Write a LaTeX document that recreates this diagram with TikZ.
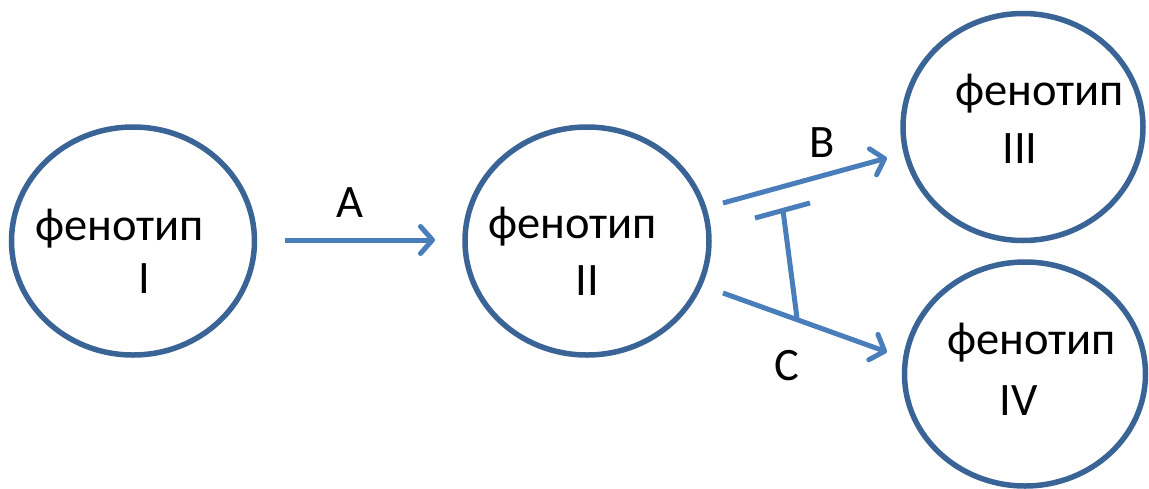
\documentclass[tikz,border=0pt]{standalone}
\usepackage{fontspec}
\setmainfont{Carlito}
\usetikzlibrary{shapes.geometric,arrows.meta}
\definecolor{ringblue}{HTML}{3B6496}
\definecolor{arrowblue}{HTML}{4A7EBB}
\begin{document}
\begin{tikzpicture}[x=1pt,y=-1pt,
  pheno/.style={ellipse, draw=ringblue, line width=5.5pt, inner sep=0pt},
  lbl/.style={font=\fontsize{46.5}{54}\selectfont, inner sep=0pt, text=black},
  link/.style={draw=arrowblue, line width=5pt, -{Straight Barb[length=12pt,width=27pt,line cap=round,line join=round]}},
  inhib/.style={draw=arrowblue, line width=5pt}]
\useasboundingbox (0,0) rectangle (1149,488);
% phenotype circles
\node[pheno, minimum width=243pt, minimum height=228pt] (p1) at (133,241) {};
\node[pheno, minimum width=244pt, minimum height=228pt] (p2) at (587,241) {};
\node[pheno, minimum width=240pt, minimum height=227pt] (p3) at (1023,127) {};
\node[pheno, minimum width=241pt, minimum height=224pt] (p4) at (1025,374) {};
% texts
\node[lbl, anchor=base west] (t1) at (35,240) {фенотип};
\node[lbl, anchor=base] (n1) at (144.5,293) {I};
\node[lbl, anchor=base west] (t2) at (488,238) {фенотип};
\node[lbl, anchor=base] (n2) at (587.5,295) {II};
\node[lbl, anchor=base west] (t3) at (955,105) {фенотип};
\node[lbl, anchor=base] (n3) at (1020,163) {III};
\node[lbl, anchor=base west] (t4) at (947,354) {фенотип};
\node[lbl, anchor=base] (n4) at (1018.5,415) {IV};
% connectors
\coordinate (a0) at (285,240);
\coordinate (a1) at (435,240);
\draw[link] (a0) -- (a1);
\node[lbl, anchor=base] (la) at (350,217) {A};
\coordinate (b0) at (723,203);
\coordinate (b1) at (887,158);
\draw[link] (b0) -- (b1);
\node[lbl, anchor=base] (lb) at (822,157) {B};
\coordinate (c0) at (723,293);
\coordinate (c1) at (887,352);
\draw[link] (c0) -- (c1);
\node[lbl, anchor=base] (lc) at (787,380) {C};
% inhibition bar
\coordinate (i0) at (755,218);
\coordinate (i1) at (810,203);
\coordinate (s0) at (783,210.5);
\coordinate (s1) at (797,318);
\draw[inhib] (i0) -- (i1);
\draw[inhib] (s0) -- (s1);
\end{tikzpicture}
\end{document}
